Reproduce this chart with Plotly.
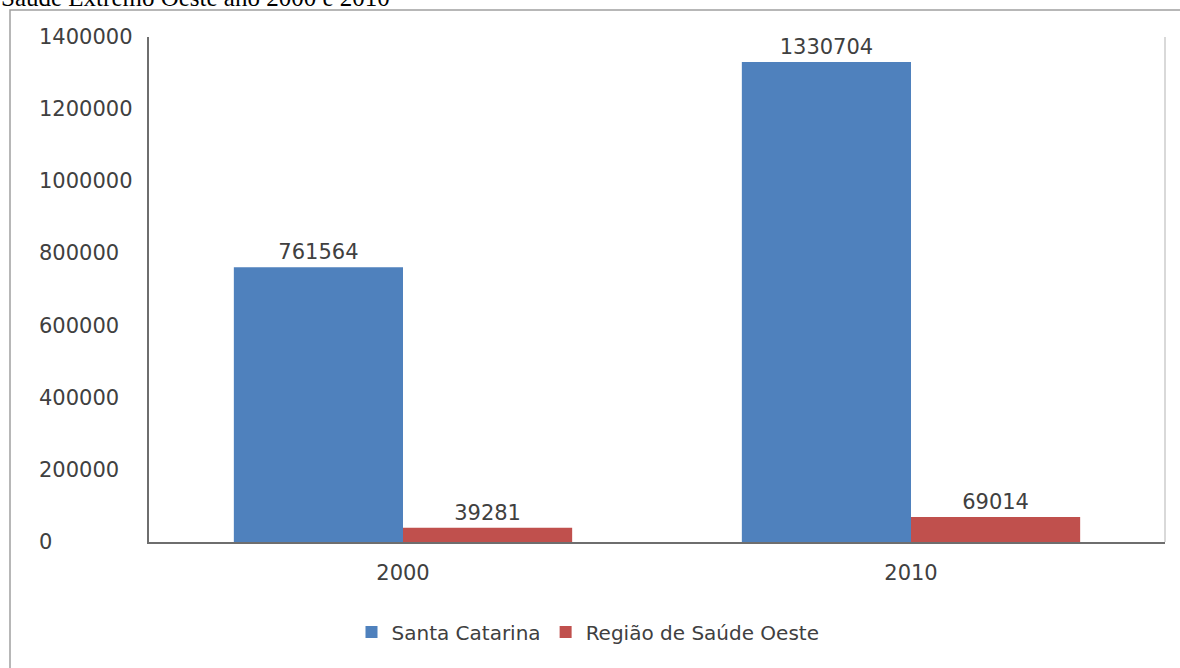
import plotly.graph_objects as go

categories = ["2000", "2010"]
santa_catarina = [761564, 1330704]
regiao_oeste = [39281, 69014]
series_names = ["Santa Catarina", "Região de Saúde Oeste"]
ytick_values = [0, 200000, 400000, 600000, 800000, 1000000, 1200000, 1400000]
title_text = "Saúde Extremo Oeste ano 2000 e 2010"

W, H = 1180, 668
L, R, T, B = 149, 1165, 37, 542
pw, ph = R - L, B - T

def px(x):
    return (x - L) / pw

def py(y):
    return (B - y) / ph

FONT = "DejaVu Sans"
TXT = "#404040"

fig = go.Figure()
fig.add_trace(go.Bar(
    x=categories, y=santa_catarina, name=series_names[0],
    marker=dict(color="#4F81BD", line=dict(width=0)),
    text=[str(v) for v in santa_catarina], textposition="outside",
    textfont=dict(family=FONT, size=21, color=TXT), cliponaxis=False,
    constraintext="none",
))
fig.add_trace(go.Bar(
    x=categories, y=regiao_oeste, name=series_names[1],
    marker=dict(color="#C0504D", line=dict(width=0)),
    text=[str(v) for v in regiao_oeste], textposition="outside",
    textfont=dict(family=FONT, size=21, color=TXT), cliponaxis=False,
    constraintext="none",
))

annotations = []
for v in ytick_values:
    annotations.append(dict(
        x=px(37), xref="paper", y=v, yref="y", text=str(v), showarrow=False,
        xanchor="left", yanchor="middle",
        font=dict(family=FONT, size=21, color=TXT),
    ))
annotations.append(dict(
    x=px(-1), xref="paper", y=py(13), yref="paper", text=title_text,
    showarrow=False, xanchor="left", yanchor="bottom",
    font=dict(family="Liberation Serif", size=25, color="#000000"),
))

shapes = [
    dict(type="line", xref="paper", yref="paper", x0=1, x1=1, y0=0, y1=1,
         line=dict(color="#d9d9d9", width=2)),
    dict(type="rect", xref="paper", yref="paper",
         x0=px(10), x1=px(1200), y0=py(700), y1=py(10),
         line=dict(color="#a0a0a0", width=1.5), layer="below"),
]

fig.update_layout(
    width=W, height=H,
    margin=dict(l=L, r=W - R, t=T, b=H - B, pad=0),
    paper_bgcolor="white", plot_bgcolor="white",
    barmode="group", bargap=0.334, bargroupgap=0,
    showlegend=True,
    legend=dict(orientation="h", x=px(588), xanchor="center", y=py(632), yanchor="middle",
                font=dict(family=FONT, size=20, color=TXT), traceorder="normal",
                itemwidth=30),
    annotations=annotations,
    shapes=shapes,
    xaxis=dict(showline=True, linecolor="#6e6e6e", linewidth=2, ticks="",
               showgrid=False, tickfont=dict(family=FONT, size=21, color=TXT),
               ticklabelstandoff=11, zeroline=False),
    yaxis=dict(range=[0, 1400000], showline=True, linecolor="#6e6e6e", linewidth=2,
               showgrid=False, zeroline=False, showticklabels=False, ticks="",
               tickvals=ytick_values),
)

fig.write_html("out.html")
